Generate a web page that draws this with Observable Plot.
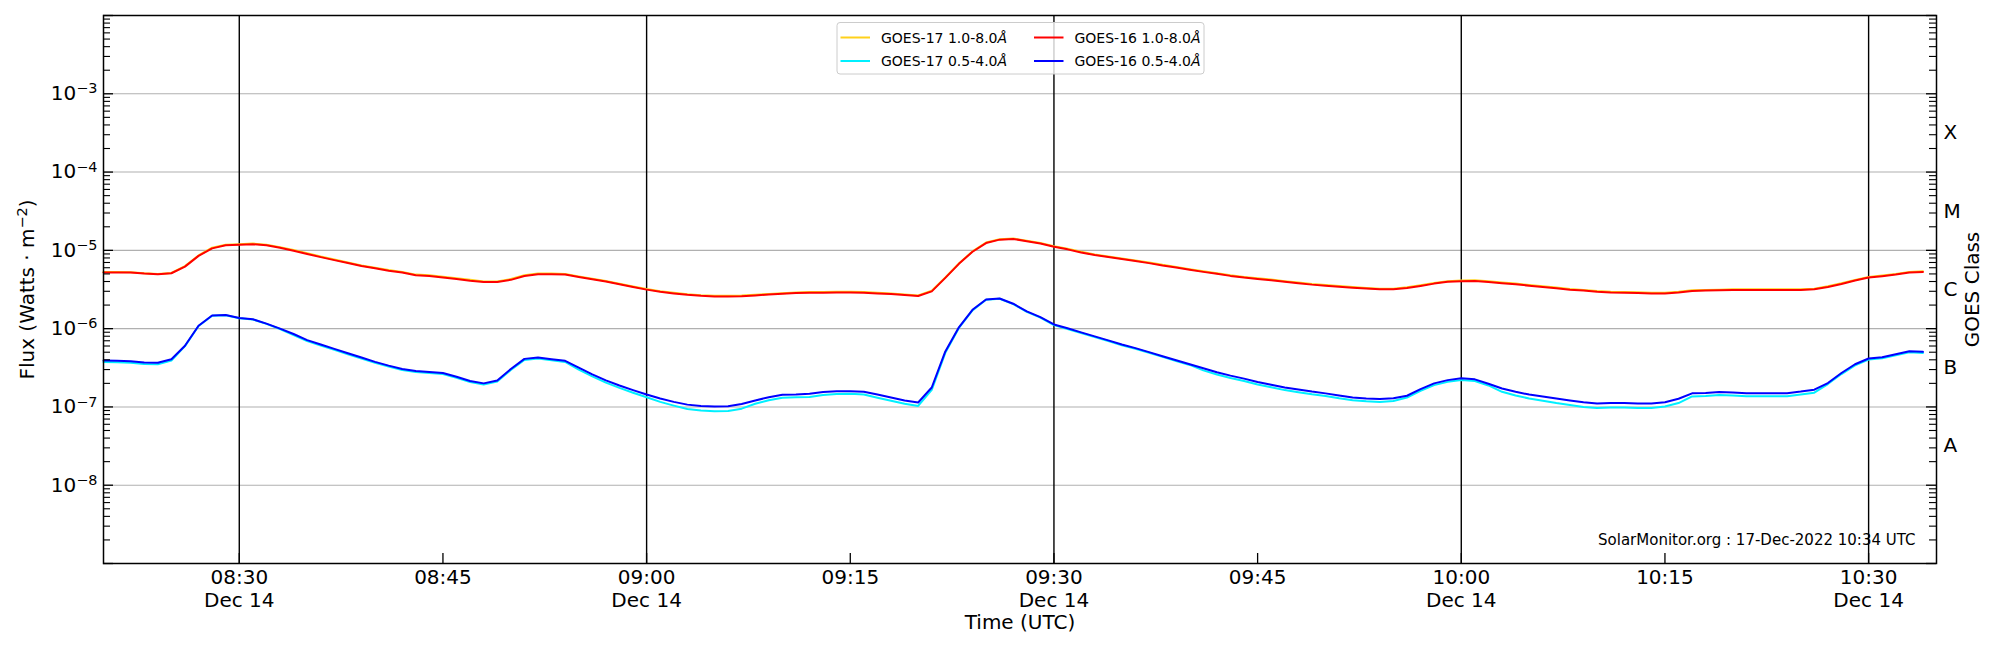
<!DOCTYPE html>
<html>
<head>
<meta charset="utf-8">
<script src="https://cdn.jsdelivr.net/npm/d3@7"></script>
<script src="https://cdn.jsdelivr.net/npm/@observablehq/plot@0.6"></script>
<style>
  html, body { margin: 0; padding: 0; background: #fff; }
  #chart { width: 2000px; height: 650px; }
</style>
</head>
<body>
<div id="chart"></div>
<script>
// ---------- DATA (1-minute GOES X-ray flux, 14 Dec 2022 08:20–10:34 UTC) ----------
const startTime = "2022-12-14T08:20:00Z";

// GOES-16 1.0–8.0 Å, units of 1e-6 W m^-2
const goes16Long = [5.2,5.2,5.2,5.05,4.95,5.1,6.2,8.5,10.6,11.6,
11.8,12.0,11.6,10.8,9.9,9.0,8.2,7.5,6.9,6.3,
5.9,5.5,5.2,4.8,4.7,4.5,4.3,4.1,3.95,3.95,
4.2,4.7,4.95,4.95,4.9,4.58,4.27,3.99,3.69,3.4,
3.15,2.96,2.82,2.71,2.63,2.58,2.58,2.6,2.66,2.73,
2.79,2.85,2.88,2.88,2.9,2.9,2.88,2.82,2.77,2.69,
2.61,2.99,4.45,6.73,9.6,12.4,13.7,14.0,13.1,12.2,
11.1,10.3,9.4,8.7,8.2,7.73,7.29,6.87,6.41,6.04,
5.64,5.31,5.01,4.72,4.49,4.31,4.15,3.96,3.8,3.65,
3.54,3.43,3.34,3.25,3.18,3.18,3.3,3.51,3.76,3.96,
4.03,4.07,3.94,3.8,3.69,3.54,3.4,3.28,3.15,3.06,
2.96,2.9,2.88,2.85,2.82,2.82,2.9,3.03,3.06,3.09,
3.12,3.12,3.12,3.12,3.12,3.12,3.18,3.4,3.72,4.11,
4.49,4.68,4.9,5.21,5.31];

// GOES-17 1.0–8.0 Å, units of 1e-6 W m^-2
const goes17Long = [5.3,5.3,5.25,5.1,5.0,5.15,6.3,8.6,10.8,11.8,
12.0,12.2,11.8,11.0,10.1,9.2,8.35,7.65,7.0,6.4,
6.0,5.6,5.3,4.9,4.8,4.6,4.4,4.2,4.0,4.0,
4.3,4.8,5.05,5.05,5.0,4.65,4.35,4.05,3.75,3.45,
3.2,3.0,2.87,2.76,2.68,2.63,2.63,2.65,2.71,2.78,
2.84,2.9,2.93,2.93,2.95,2.95,2.93,2.87,2.82,2.74,
2.66,3.05,4.5,6.8,9.7,12.6,13.9,14.2,13.3,12.4,
11.3,10.5,9.6,8.85,8.35,7.88,7.43,7.0,6.53,6.15,
5.75,5.41,5.11,4.81,4.58,4.4,4.23,4.04,3.88,3.72,
3.61,3.5,3.41,3.31,3.24,3.24,3.37,3.58,3.83,4.04,
4.11,4.15,4.02,3.88,3.76,3.61,3.47,3.35,3.21,3.12,
3.02,2.96,2.94,2.91,2.88,2.88,2.96,3.09,3.12,3.15,
3.18,3.18,3.18,3.18,3.18,3.18,3.24,3.47,3.79,4.19,
4.58,4.77,5.0,5.31,5.42];

// GOES-16 0.5–4.0 Å, units of 1e-7 W m^-2
const goes16Short = [3.91,3.88,3.83,3.69,3.66,4.07,6.04,10.9,14.7,14.9,
13.7,13.2,11.6,10.0,8.54,7.14,6.28,5.52,4.86,4.28,
3.76,3.37,3.05,2.88,2.80,2.71,2.43,2.14,2.00,2.18,
3.05,4.11,4.28,4.07,3.88,3.18,2.61,2.18,1.88,1.64,
1.44,1.28,1.16,1.07,1.03,1.01,1.02,1.09,1.21,1.33,
1.43,1.44,1.47,1.55,1.59,1.59,1.56,1.44,1.32,1.21,
1.14,1.77,5.11,10.4,17.4,23.6,24.3,20.8,16.6,14.0,
11.3,10.1,8.97,7.96,7.08,6.28,5.64,5.01,4.45,3.95,
3.51,3.12,2.77,2.51,2.30,2.08,1.92,1.77,1.67,1.57,
1.49,1.40,1.32,1.28,1.26,1.29,1.39,1.69,2.00,2.20,
2.32,2.25,1.98,1.72,1.56,1.44,1.36,1.28,1.21,1.15,
1.11,1.12,1.12,1.11,1.11,1.15,1.27,1.49,1.51,1.55,
1.53,1.50,1.50,1.50,1.50,1.57,1.66,2.02,2.71,3.51,
4.15,4.32,4.72,5.15,5.05];

// GOES-17 0.5–4.0 Å, units of 1e-7 W m^-2
const goes17Short = [3.75,3.72,3.68,3.54,3.51,3.91,5.98,10.8,14.6,14.8,
13.6,13.1,11.5,9.9,8.28,6.93,6.09,5.35,4.71,4.15,
3.65,3.27,2.96,2.79,2.72,2.63,2.36,2.08,1.94,2.11,
2.96,3.99,4.15,3.95,3.76,3.0,2.45,2.04,1.75,1.52,
1.33,1.16,1.04,0.94,0.90,0.88,0.89,0.95,1.10,1.22,
1.31,1.33,1.34,1.42,1.46,1.47,1.44,1.31,1.20,1.10,
1.03,1.65,4.9,10.2,17.1,23.4,24.1,20.6,16.4,13.8,
11.1,9.9,8.79,7.8,6.94,6.15,5.53,4.91,4.36,3.87,
3.44,2.93,2.60,2.34,2.14,1.93,1.78,1.64,1.54,1.45,
1.38,1.29,1.22,1.18,1.16,1.19,1.32,1.61,1.90,2.09,
2.20,2.14,1.88,1.56,1.40,1.28,1.20,1.12,1.06,1.00,
0.97,0.98,0.98,0.97,0.97,1.01,1.12,1.36,1.38,1.42,
1.40,1.37,1.37,1.37,1.37,1.44,1.52,1.96,2.63,3.40,
4.03,4.19,4.58,5.0,4.9];

const seriesNames  = ["GOES-17 1.0-8.0Å", "GOES-17 0.5-4.0Å", "GOES-16 1.0-8.0Å", "GOES-16 0.5-4.0Å"];
const seriesColors = ["#ffd11a", "#00f0ff", "#ff0000", "#0000ff"];

// Axis ticks / labels
const xDomain       = ["2022-12-14T08:20:00Z", "2022-12-14T10:35:00Z"];
const xTickTimes    = ["08:30","08:45","09:00","09:15","09:30","09:45","10:00","10:15","10:30"];
const halfHourTimes = ["08:30","09:00","09:30","10:00","10:30"];
const dateLabel     = "Dec 14";
const yDomain       = [1e-9, 1e-2];
const labelDecades  = [1e-8, 1e-7, 1e-6, 1e-5, 1e-4, 1e-3];
const classLabels   = ["A", "B", "C", "M", "X"];
const classCenters  = [3.162e-8, 3.162e-7, 3.162e-6, 3.162e-5, 3.162e-4];
const yTitle = "Flux (Watts · m|−2|)";
const xTitle = "Time (UTC)";
const rightTitle = "GOES Class";
const captionText = "SolarMonitor.org : 17-Dec-2022 10:34 UTC";

// ---------- build table ----------
const t0 = new Date(startTime).getTime();
const rows = [];
const seriesData = [[goes17Long, 1e-6], [goes17Short, 1e-7], [goes16Long, 1e-6], [goes16Short, 1e-7]];
seriesData.forEach(([vals, unit], s) => {
  vals.forEach((v, i) => rows.push({time: new Date(t0 + i * 60000), flux: v * unit, series: seriesNames[s]}));
});
const toDate = hm => new Date(`2022-12-14T${hm}:00Z`);
const xTicks = xTickTimes.map(toDate);
const halfHours = halfHourTimes.map(toDate);
const allDecades = [];
const minorTicks = [];
for (let e = -9; e <= -2; e++) {
  allDecades.push(Math.pow(10, e));
  if (e < -2) for (let m = 2; m <= 9; m++) minorTicks.push(m * Math.pow(10, e));
}
const pad = n => String(n).padStart(2, "0");
const fmtX = d => {
  const s = `${pad(d.getUTCHours())}:${pad(d.getUTCMinutes())}`;
  return d.getUTCMinutes() % 30 === 0 ? `${s}\n${dateLabel}` : s;
};

const font = '"DejaVu Sans", "Liberation Sans", sans-serif';
const W = 2000, H = 650, mL = 103, mR = 64, mT = 15, mB = 87;
const frameW = W - mL - mR, frameH = H - mT - mB;
const majorLen = 10, minorLen = 7;

const chart = Plot.plot({
  width: W,
  height: H,
  marginLeft: mL,
  marginRight: mR,
  marginTop: mT,
  marginBottom: mB,
  style: {fontFamily: font, fontSize: "20px", background: "white", color: "black", overflow: "visible"},
  x: {type: "utc", domain: xDomain.map(d => new Date(d)), label: null},
  y: {type: "log", domain: yDomain, label: null},
  color: {domain: seriesNames, range: seriesColors},
  marks: [
    Plot.ruleY(labelDecades, {stroke: "#b0b0b0", strokeWidth: 1.1}),
    Plot.ruleX(halfHours, {stroke: "black", strokeWidth: 1.4}),
    Plot.line(rows, {x: "time", y: "flux", z: "series", stroke: "series", strokeWidth: 2}),
    Plot.frame({stroke: "black", strokeWidth: 1.5}),
    // inward tick marks (left / right / bottom)
    Plot.tickY(allDecades, {y: d => d, insetRight: frameW - majorLen, stroke: "black", strokeWidth: 1.3}),
    Plot.tickY(allDecades, {y: d => d, insetLeft: frameW - majorLen, stroke: "black", strokeWidth: 1.3}),
    Plot.tickY(minorTicks, {y: d => d, insetRight: frameW - minorLen, stroke: "black", strokeWidth: 1.1}),
    Plot.tickY(minorTicks, {y: d => d, insetLeft: frameW - minorLen, stroke: "black", strokeWidth: 1.1}),
    Plot.tickX(xTicks, {x: d => d, insetTop: frameH - majorLen, stroke: "black", strokeWidth: 1.3}),
    // tick labels
    Plot.axisY({anchor: "left", ticks: labelDecades, tickSize: 0, tickPadding: 6, label: null, fontSize: 20,
      tickFormat: d => "10|−" + Math.round(-Math.log10(d))}),
    Plot.text(classLabels, {text: d => d, y: (d, i) => classCenters[i], frameAnchor: "right", textAnchor: "start", dx: 7, fontSize: 20}),
    Plot.axisX({anchor: "bottom", ticks: xTicks, tickSize: 0, tickPadding: 4, label: null, lineHeight: 1.15, fontSize: 20,
      tickFormat: fmtX}),
    // titles
    Plot.text([xTitle], {text: d => d, frameAnchor: "bottom", textAnchor: "middle", dy: 65, fontSize: 20}),
    Plot.text([yTitle], {text: d => d, frameAnchor: "left", textAnchor: "middle", dx: -76, rotate: -90, fontSize: 20, className: "ytitle"}),
    Plot.text([rightTitle], {text: d => d, frameAnchor: "right", textAnchor: "middle", dx: 36, rotate: -90, fontSize: 20}),
    Plot.text([captionText], {text: d => d, frameAnchor: "bottom-right", textAnchor: "end", dx: -21, dy: -19, fontSize: 15})
  ]
});

document.getElementById("chart").appendChild(chart);

const svg = d3.select(chart);

// ---------- superscripts ----------
function superscriptify(sel) {
  sel.each(function () {
    const t = d3.select(this);
    const s = t.text();
    if (!s.includes("|")) return;
    const parts = s.split("|");
    t.text(parts[0]);
    t.append("tspan").attr("dy", "-0.47em").attr("font-size", "0.72em").text(parts[1]);
    if (parts[2]) t.append("tspan").attr("dy", "0.34em").text(parts[2]);
  });
}
superscriptify(svg.selectAll('g[aria-label="y-axis tick label"] text'));
superscriptify(svg.selectAll('g.ytitle text'));

// ---------- legend (inside axes, top centre) ----------
const leg = svg.append("g").attr("font-family", font).attr("font-size", 14).attr("text-anchor", "start");
leg.append("rect")
  .attr("x", 837).attr("y", 22.5).attr("width", 367).attr("height", 51.5).attr("rx", 3)
  .attr("fill", "white").attr("fill-opacity", 0.8).attr("stroke", "#cccccc").attr("stroke-width", 1);
const legendPos = [[0, 0], [0, 1], [1, 0], [1, 1]]; // [column, row] for each series
const colX = [840.5, 1034], rowY = [37.5, 61];
seriesNames.forEach((name, i) => {
  const [c, r] = legendPos[i];
  const x = colX[c], y = rowY[r];
  leg.append("line").attr("x1", x).attr("x2", x + 29.5).attr("y1", y).attr("y2", y)
    .attr("stroke", seriesColors[i]).attr("stroke-width", 2);
  const txt = leg.append("text").attr("x", x + 40.5).attr("y", y + 5).attr("fill", "black").attr("text-anchor", "start");
  txt.append("tspan").text(name.slice(0, -1));
  txt.append("tspan").attr("font-style", "italic").text(name.slice(-1));
});
</script>
</body>
</html>
